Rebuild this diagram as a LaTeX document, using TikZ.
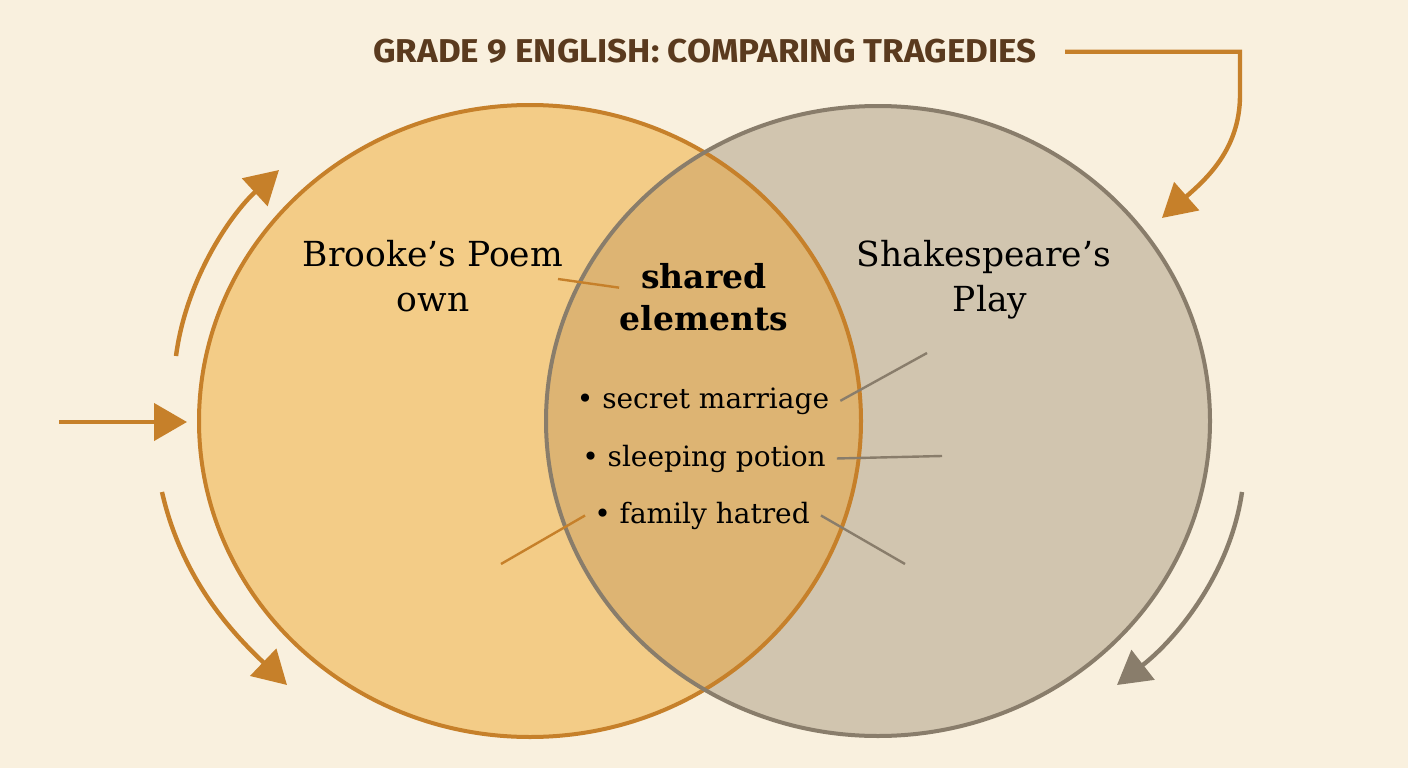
\documentclass[tikz,border=0pt]{standalone}
\usepackage{fontspec}
\setmainfont{DejaVu Serif}
\newfontfamily\headfont{Fira Sans}
\usetikzlibrary{arrows.meta}
\definecolor{paper}{RGB}{249,240,222}
\definecolor{poemfill}{RGB}{243,204,135}
\definecolor{poemline}{RGB}{198,128,42}
\definecolor{playfill}{RGB}{209,197,175}
\definecolor{playline}{RGB}{137,125,107}
\definecolor{sharedfill}{RGB}{221,180,115}
\definecolor{heading}{RGB}{90,58,30}

\begin{document}
\begin{tikzpicture}[x=1pt, y=-1pt]
    \tikzstyle{every node} = [inner sep=2pt]
    \tikzstyle{cyclearrow} = [line width=4.4pt, -{Triangle[length=33pt, width=37pt]}]
    \tikzstyle{leader} = [line width=2.4pt]
    \tikzstyle{rim} = [line width=4pt]
    \tikzstyle{circlename} = [font=\fontsize{34.5}{40}\selectfont, anchor=base]
    \tikzstyle{sharedname} = [font=\bfseries\fontsize{33}{38}\selectfont, anchor=base]
    \tikzstyle{listitem} = [font=\fontsize{28}{34}\selectfont, anchor=base]

    \useasboundingbox (0,0) rectangle (1408,768);
    \fill[paper] (0,0) rectangle (1408,768);
    \fill[poemfill] (530,421) ellipse [x radius=331, y radius=316];
    \fill[playfill] (878,421) ellipse [x radius=332, y radius=315];
    \begin{scope}
        \clip (530,421) ellipse [x radius=331, y radius=316];
        \fill[sharedfill] (878,421) ellipse [x radius=332, y radius=315];
    \end{scope}
    \draw[rim, poemline] (530,421) ellipse [x radius=331, y radius=316];
    \draw[rim, playline] (878,421) ellipse [x radius=332, y radius=315];

    \node[font=\headfont\bfseries\fontsize{33}{36}\selectfont, text=heading, anchor=base, xscale=1.06]
        (heading) at (705,63) {GRADE 9 ENGLISH: COMPARING TRAGEDIES};
    \node[circlename] (poemname) at (433,266) {Brooke’s Poem};
    \node[circlename] (poemown) at (433,311) {own};
    \node[sharedname] (sharedtop) at (704,288) {shared};
    \node[sharedname] (sharedbot) at (704,330) {elements};
    \node[circlename] (playname) at (984,266) {Shakespeare’s};
    \node[circlename] (playword) at (990,311) {Play};
    \node[listitem] (marriage) at (703,408) {• secret marriage};
    \node[listitem] (potion) at (704,466) {• sleeping potion};
    \node[listitem] (hatred) at (702,523) {• family hatred};

    \coordinate (poemend) at (558,279);
    \coordinate (marriageend) at (927,353);
    \coordinate (potionend) at (942,456);
    \coordinate (hatredleft) at (501,564);
    \coordinate (hatredright) at (905,564);
    \draw[leader, poemline] ([shift={(-20,-3)}]sharedtop.south west) -- (poemend);
    \draw[leader, playline] ([xshift=9pt]marriage.east) -- (marriageend);
    \draw[leader, playline] ([xshift=9pt]potion.east) -- (potionend);
    \draw[leader, poemline] ([xshift=-7pt]hatred.west) -- (hatredleft);
    \draw[leader, playline] ([xshift=9pt]hatred.east) -- (hatredright);

    \draw[cyclearrow, poemline] ([xshift=26pt]heading.east) -| (1240,95)
        .. controls (1240,150) and (1205,180) .. (1162,218);
    \draw[cyclearrow, poemline] (176,356) .. controls (186,280) and (230,215) .. (279,170);
    \draw[cyclearrow, poemline] (59,422) -- (187,422);
    \draw[cyclearrow, poemline] (162,492) .. controls (183,585) and (240,640) .. (287,685);
    \draw[cyclearrow, playline] (1242,492) .. controls (1230,575) and (1175,640) .. (1117,685);
\end{tikzpicture}
\end{document}
